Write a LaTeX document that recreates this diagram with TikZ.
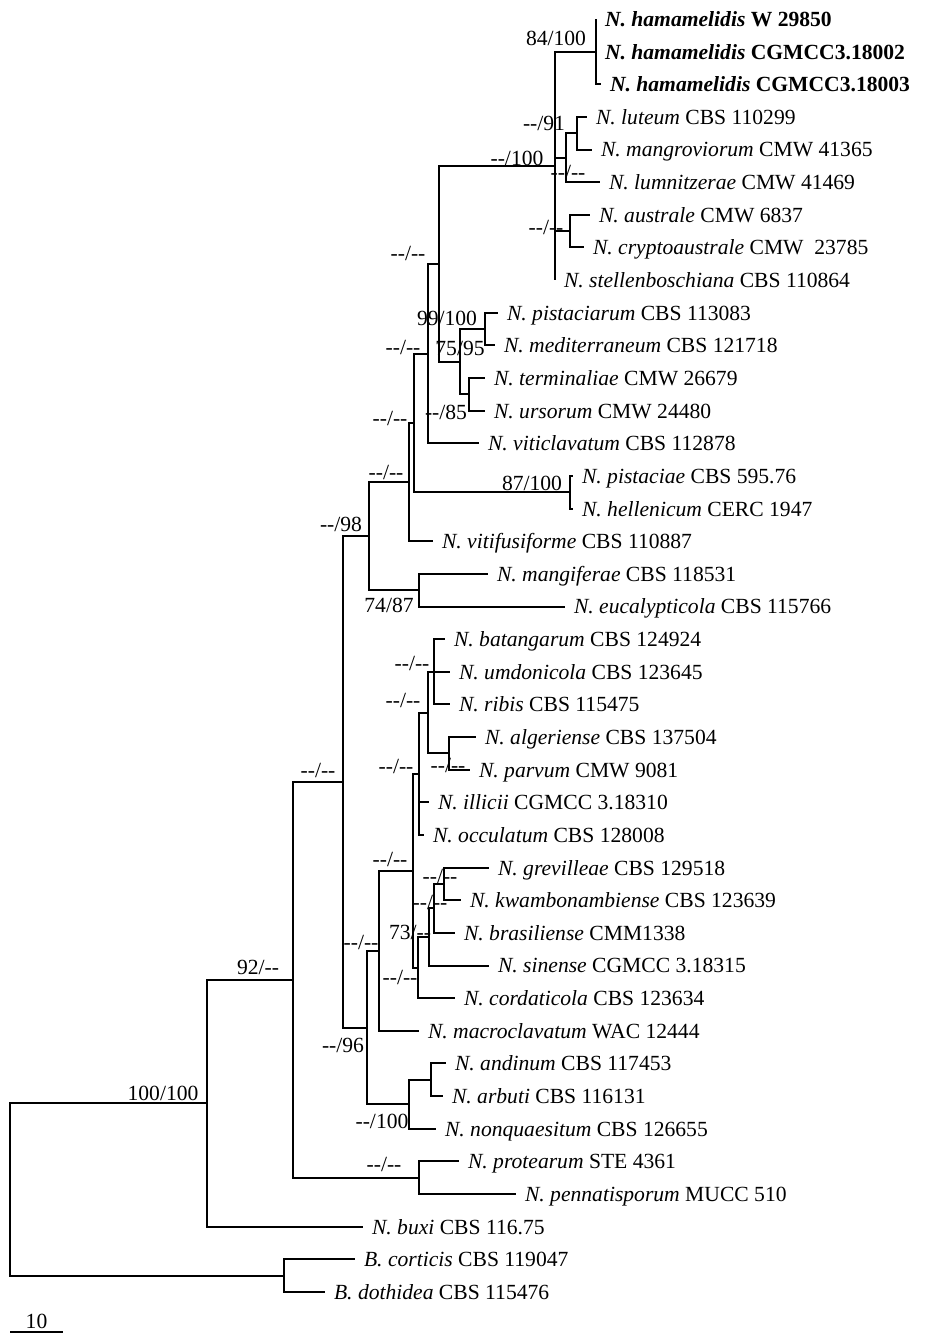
\documentclass[tikz,border=0pt]{standalone}
\usepackage{fontspec}
\setmainfont{Liberation Serif}
\newcommand{\taxfont}{\fontsize{21.6}{25}\selectfont}
\newcommand{\nd}{-\kern0pt-}
% leaf: name, x of branch end, row, label
\newcommand{\leaf}[4]{%
  \coordinate (#1) at (#2,{19+32.64*(#3-1)});
  \node[taxon] (#1-t) at (#1) {#4};}
\tikzset{
  every picture/.style = {
    line width = 2pt,
    x = 1pt,
    y = -1pt
  }
  , % taxon labels
  taxon/.style = {
    anchor = base west,
    inner sep = 0pt,
    xshift = 8pt,
    yshift = -7.4pt,
    font = \taxfont
  }
  , % support values
  support/.style = {
    anchor = base,
    inner sep = 0pt,
    yshift = -7.4pt,
    font = \taxfont
  }
}
\begin{document}
\begin{tikzpicture}
\useasboundingbox (0,0) rectangle (945,1343);
% leaves
\leaf{ham1}{596}{1}{\textbf{\textit{N. hamamelidis} W 29850}}
\leaf{ham2}{596}{2}{\textbf{\textit{N. hamamelidis} CGMCC3.18002}}
\leaf{ham3}{601}{3}{\textbf{\textit{N. hamamelidis} CGMCC3.18003}}
\leaf{lut}{587}{4}{\textit{N. luteum} CBS 110299}
\leaf{man}{592}{5}{\textit{N. mangroviorum} CMW 41365}
\leaf{lum}{600}{6}{\textit{N. lumnitzerae} CMW 41469}
\leaf{aus}{590}{7}{\textit{N. australe} CMW 6837}
\leaf{cry}{584}{8}{\textit{N. cryptoaustrale} CMW~~23785}
\leaf{ste}{555}{9}{\textit{N. stellenboschiana} CBS 110864}
\leaf{pcm}{498}{10}{\textit{N. pistaciarum} CBS 113083}
\leaf{med}{495}{11}{\textit{N. mediterraneum} CBS 121718}
\leaf{ter}{485}{12}{\textit{N. terminaliae} CMW 26679}
\leaf{urs}{485}{13}{\textit{N. ursorum} CMW 24480}
\leaf{vcl}{479}{14}{\textit{N. viticlavatum} CBS 112878}
\leaf{pie}{573}{15}{\textit{N. pistaciae} CBS 595.76}
\leaf{hel}{573}{16}{\textit{N. hellenicum} CERC 1947}
\leaf{vfu}{433}{17}{\textit{N. vitifusiforme} CBS 110887}
\leaf{mgf}{488}{18}{\textit{N. mangiferae} CBS 118531}
\leaf{euc}{565}{19}{\textit{N. eucalypticola} CBS 115766}
\leaf{bat}{445}{20}{\textit{N. batangarum} CBS 124924}
\leaf{umd}{450}{21}{\textit{N. umdonicola} CBS 123645}
\leaf{rib}{450}{22}{\textit{N. ribis} CBS 115475}
\leaf{alg}{476}{23}{\textit{N. algeriense} CBS 137504}
\leaf{par}{470}{24}{\textit{N. parvum} CMW 9081}
\leaf{ill}{429}{25}{\textit{N. illicii} CGMCC 3.18310}
\leaf{occ}{424}{26}{\textit{N. occulatum} CBS 128008}
\leaf{gre}{489}{27}{\textit{N. grevilleae} CBS 129518}
\leaf{kwa}{461}{28}{\textit{N. kwambonambiense} CBS 123639}
\leaf{bra}{455}{29}{\textit{N. brasiliense} CMM1338}
\leaf{sin}{489}{30}{\textit{N. sinense} CGMCC 3.18315}
\leaf{cor}{455}{31}{\textit{N. cordaticola} CBS 123634}
\leaf{mac}{419}{32}{\textit{N. macroclavatum} WAC 12444}
\leaf{and}{446}{33}{\textit{N. andinum} CBS 117453}
\leaf{arb}{443}{34}{\textit{N. arbuti} CBS 116131}
\leaf{non}{436}{35}{\textit{N. nonquaesitum} CBS 126655}
\leaf{pro}{459}{36}{\textit{N. protearum} STE 4361}
\leaf{pen}{516}{37}{\textit{N. pennatisporum} MUCC 510}
\leaf{bux}{363}{38}{\textit{N. buxi} CBS 116.75}
\leaf{bco}{355}{39}{\textit{B. corticis} CBS 119047}
\leaf{bdo}{325}{40}{\textit{B. dothidea} CBS 115476}
% internal nodes
\coordinate (hamC) at (596,51.6);
\coordinate (lutC) at (577,133.2);
\coordinate (lumC) at (566,157.7);
\coordinate (ausC) at (570,231.2);
\coordinate (polyC) at (555,165.9);
\coordinate (pcmC) at (485,329.1);
\coordinate (terC) at (469,394.4);
\coordinate (medC) at (460,361.7);
\coordinate (topC) at (439,263.8);
\coordinate (vclC) at (428,353.6);
\coordinate (pieC) at (570,492.3);
\coordinate (helC) at (414,422.9);
\coordinate (vfuC) at (409,482.1);
\coordinate (mgfC) at (419,590.2);
\coordinate (upperC) at (369,536.1);
\coordinate (batC) at (434,671.8);
\coordinate (algC) at (449,753.4);
\coordinate (ribC) at (428,712.6);
\coordinate (illC) at (419,773.8);
\coordinate (greC) at (444,884.0);
\coordinate (braC) at (434,908.4);
\coordinate (sinC) at (429,937.0);
\coordinate (corC) at (418,967.6);
\coordinate (parC) at (413,870.7);
\coordinate (macC) at (379,950.8);
\coordinate (andC) at (431,1079.8);
\coordinate (nonC) at (409,1104.3);
\coordinate (lowerC) at (367,1027.5);
\coordinate (coreC) at (343,781.8);
\coordinate (proC) at (419,1177.7);
\coordinate (neoC) at (293,979.8);
\coordinate (buxC) at (207,1103.2);
\coordinate (botC) at (284,1275.6);
\coordinate (root) at (10,1189.4);
% branches
\foreach \p/\c in {root/buxC, root/botC, botC/bco, botC/bdo,
    buxC/neoC, buxC/bux, neoC/coreC, neoC/proC, proC/pro, proC/pen,
    coreC/upperC, coreC/lowerC, upperC/vfuC, upperC/mgfC,
    mgfC/mgf, mgfC/euc, vfuC/helC, vfuC/vfu, helC/vclC, helC/pieC,
    pieC/pie, pieC/hel, vclC/topC, vclC/vcl, topC/polyC, topC/medC,
    medC/pcmC, medC/terC, pcmC/pcm, pcmC/med, terC/ter, terC/urs,
    polyC/hamC, polyC/lumC, polyC/ausC, polyC/ste,
    hamC/ham1, hamC/ham3, lumC/lutC, lumC/lum, lutC/lut, lutC/man,
    ausC/aus, ausC/cry, lowerC/macC, lowerC/nonC, nonC/andC, nonC/non,
    andC/and, andC/arb, macC/parC, macC/mac, parC/illC, parC/corC,
    illC/ribC, illC/ill, illC/occ, ribC/batC, ribC/algC,
    batC/bat, batC/umd, batC/rib, algC/alg, algC/par,
    corC/sinC, corC/cor, sinC/braC, sinC/sin, braC/greC, braC/bra,
    greC/gre, greC/kwa}
  \draw (\p) |- (\c);
% support values
\node[support] (s-hamC) at (556,38) {84/100};
\node[support] (s-lutC) at (544,123) {\nd/91};
\node[support] (s-polyC) at (517,158) {\nd/100};
\node[support] (s-lumC) at (568,172) {\nd/\nd};
\node[support] (s-ausC) at (546,227) {\nd/\nd};
\node[support] (s-topC) at (408,253) {\nd/\nd};
\node[support] (s-pcmC) at (447,318) {99/100};
\node[support] (s-medC) at (460,348) {75/95};
\node[support] (s-vclC) at (403,347) {\nd/\nd};
\node[support] (s-terC) at (446,412) {\nd/85};
\node[support] (s-helC) at (390,418) {\nd/\nd};
\node[support] (s-vfuC) at (386,472) {\nd/\nd};
\node[support] (s-pieC) at (532,483) {87/100};
\node[support] (s-upperC) at (341,524) {\nd/98};
\node[support] (s-mgfC) at (389,605) {74/87};
\node[support] (s-batC) at (412,663) {\nd/\nd};
\node[support] (s-ribC) at (403,700) {\nd/\nd};
\node[support] (s-algC) at (448,765) {\nd/\nd};
\node[support] (s-illC) at (396,766) {\nd/\nd};
\node[support] (s-coreC) at (318,770) {\nd/\nd};
\node[support] (s-parC) at (390,859) {\nd/\nd};
\node[support] (s-greC) at (440,876) {\nd/\nd};
\node[support] (s-braC) at (430,902) {\nd/\nd};
\node[support] (s-sinC) at (410,932) {73/\nd};
\node[support] (s-macC) at (361,942) {\nd/\nd};
\node[support] (s-neoC) at (258,967) {92/\nd};
\node[support] (s-corC) at (400,977) {\nd/\nd};
\node[support] (s-lowerC) at (343,1045) {\nd/96};
\node[support] (s-buxC) at (163,1093) {100/100};
\node[support] (s-nonC) at (382,1121) {\nd/100};
\node[support] (s-proC) at (384,1164) {\nd/\nd};
% scale bar
\coordinate (sb0) at (10,1332);
\coordinate (sb1) at (63,1332);
\draw (sb0) -- node[midway, above, inner sep=2pt, font=\taxfont] (sb) {10} (sb1);
\end{tikzpicture}
\end{document}
